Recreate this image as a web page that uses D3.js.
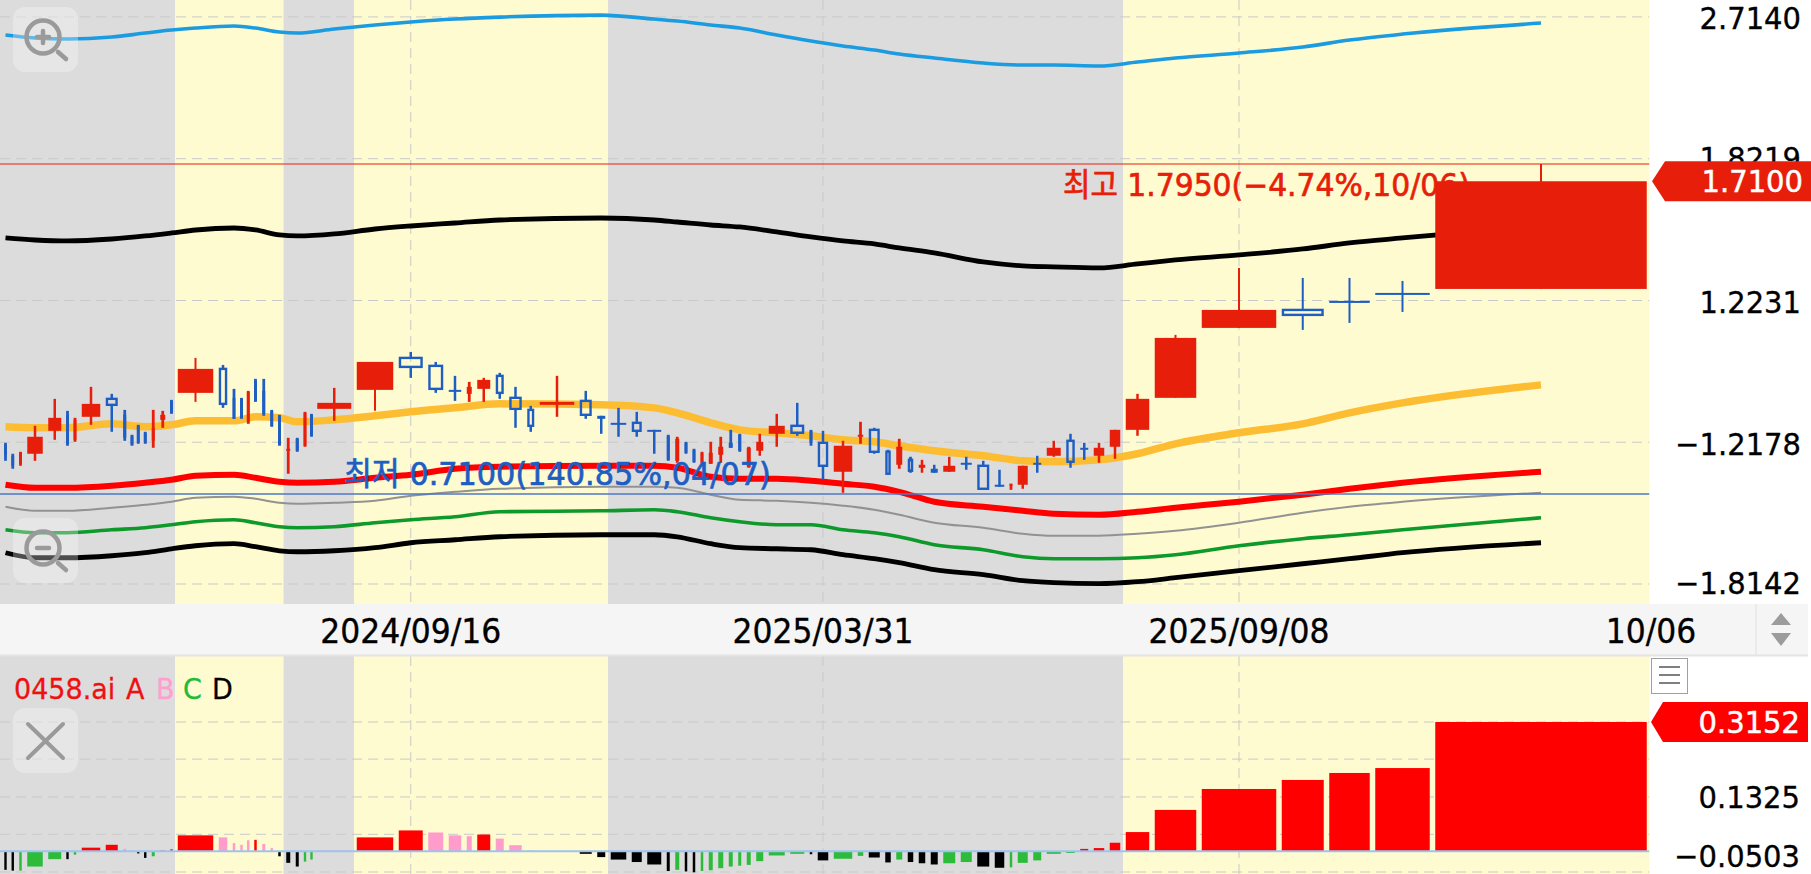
<!DOCTYPE html>
<html><head><meta charset="utf-8">
<style>html,body{margin:0;padding:0;background:#fff;overflow:hidden}svg{display:block}text{font-family:"DejaVu Sans","Noto Sans CJK KR",sans-serif}</style>
<script src="https://cdnjs.cloudflare.com/ajax/libs/d3/7.8.5/d3.min.js"></script>
</head><body><svg id="c" width="1811" height="874"></svg>
<script>
const volumes=[7,7.5,8,21,18.5,7,8,24,17.5,8.5,6,6.5,7.5,8.5,10.5,7,41,14,8,7,6.5,8,8.5,7.5,8,9.5,8.5,7,6,39.5,42,29.5,20.5,18,10.5,18.5,13.5,18,12.5,40,17.5,13.5,21,15.5,19.5,8.5,9.5,8,8,8,9.5,10.5,9.5,8.5,9.5,12.5,21.5,19.5,8,16,24,11,16.5,11,11.5,11,12,12.5,17.5,16.5,17.5,15,8,15.5,13.5,19.5,14,13.5,16,16,29,47,80,47.5,46,60,217];
const opens=[.8154,.7905,.7730,.7950,.8480,.8870,.8268,.8820,.9277,.8870,.8362,.8600,.8433,.8245,.8745,.9224,.9434,1.0092,.9303,.9277,.8672,.9758,.9487,.8969,.8845,.8039,.8292,.8131,.8870,.9020,.9514,1.0408,1.0178,.9514,.9408,.9541,.9896,.9303,.8994,.9122,.9224,.8845,.8672,.8672,.8503,.8362,.7794,.8199,.8039,.7751,.7730,.7928,.8199,.8386,.7665,.8017,.8409,.8600,.8480,.8199,.7558,.8362,.8503,.7994,.7708,.7816,.7643,.7622,.7558,.7751,.7686,.7287,.7266,.7287,.7751,.7905,.8245,.8085,.7905,.8108,.8503,.9303,1.1324,1.1911,1.2216,1.2494,1.2635];
const highs=[.8199,.7950,.7994,.8600,.9277,.8969,.8795,.9595,.9408,.8994,.8386,.8624,.8456,.8994,.8969,.9250,1.0408,1.0205,.9541,.9303,.9487,.9813,.9813,.8994,.8870,.8315,.8315,.8944,.8894,.9568,1.0292,1.0585,1.0292,.9896,.9730,.9841,.9980,.9595,.9096,.9896,.9487,.8845,.9045,.8944,.8503,.8386,.8339,.8222,.8062,.7994,.8222,.8339,.8503,.8409,.8108,.8409,.8894,.9173,.8503,.8480,.8245,.8697,.8552,.8039,.8292,.7883,.7816,.7708,.7883,.7883,.7794,.7600,.7307,.7686,.7905,.8245,.8409,.8199,.8199,.8503,.9408,1.1104,1.3403,1.3032,1.3032,1.2922,1.7950];
const lows=[.7794,.7622,.7686,.7794,.8268,.8131,.8222,.8624,.8456,.8245,.8131,.8176,.8176,.8085,.8552,.8894,.9198,.9045,.8770,.8770,.8648,.9198,.8845,.8576,.8131,.7516,.7994,.8108,.8339,.8721,.8969,.9841,.9434,.9224,.9198,.9198,.9277,.8552,.8456,.8820,.8770,.8409,.8339,.8339,.7950,.7794,.7751,.7950,.7751,.7730,.7730,.7751,.8085,.7994,.7643,.7905,.8108,.8362,.8131,.7389,.7124,.8176,.7950,.7516,.7622,.7537,.7537,.7537,.7558,.7600,.7205,.7246,.7184,.7205,.7537,.7883,.7643,.7816,.7751,.7838,.8362,.9303,1.1324,1.1260,1.1484,1.1844,1.2635];
const closes=[.7928,.7686,.7972,.8339,.8795,.8176,.8745,.9147,.9122,.8315,.8154,.8199,.8199,.8552,.8870,.8919,1.0092,.9147,.8770,.8795,.9461,.9224,.8894,.8600,.8154,.8062,.8017,.8919,.8362,.9173,1.0292,1.0148,.9541,.9461,.9595,.9785,.9434,.9020,.8600,.9198,.8870,.8770,.8624,.8480,.8456,.7816,.8292,.7972,.7773,.7972,.7972,.8108,.8085,.8017,.8085,.8222,.8600,.8433,.8199,.7686,.8131,.8386,.7994,.7516,.8108,.7579,.7708,.7537,.7686,.7708,.7205,.7246,.7307,.7686,.7708,.8085,.7773,.8039,.8085,.8503,.9277,1.1010,1.1911,1.1746,1.2148,1.2424,1.7100];

const lineKnots=[1,4,6,9,13,16,17,19,22,25,27,30,31,32,34,37,42,45,47,51,54,57,59,61,63,65,68,71,74,76,79,81,82,83,84,85,86,87];
const upperBlue=[2.5789,2.5573,2.5502,2.5645,2.5935,2.6154,2.6303,2.6451,2.6303,2.6008,2.5935,2.6229,2.6525,2.6749,2.6975,2.7126,2.7279,2.6975,2.6824,2.6525,2.6303,2.5789,2.5359,2.5006,2.4726,2.4450,2.4177,2.3839,2.3706,2.3706,2.3640,2.3906,2.4177,2.4519,2.4936,2.5430,2.5862,2.6674];
const upperBlack=[1.4581,1.4498,1.4458,1.4539,1.4663,1.4787,1.4911,1.4996,1.4911,1.4704,1.4663,1.4746,1.4953,1.5080,1.5207,1.5336,1.5423,1.5336,1.5250,1.5122,1.5038,1.4828,1.4622,1.4458,1.4338,1.4177,1.3980,1.3630,1.3479,1.3441,1.3403,1.3554,1.3706,1.3901,1.4137,1.4378,1.4581,1.5080];
const middleOrange=[.8576,.8552,.8552,.8648,.8576,.8624,.8721,.8721,.8820,.8795,.8697,.8745,.8845,.8944,.9045,.9147,.9122,.9045,.8919,.8672,.8503,.8433,.8362,.8268,.8222,.8131,.8017,.7905,.7794,.7773,.7816,.7950,.8176,.8433,.8648,.8919,.9173,.9649];
const lowerRed=[.7287,.7225,.7225,.7266,.7328,.7389,.7474,.7495,.7431,.7348,.7328,.7348,.7431,.7495,.7622,.7665,.7686,.7686,.7643,.7452,.7410,.7410,.7369,.7307,.7246,.7144,.6947,.6851,.6773,.6717,.6698,.6755,.6831,.6947,.7086,.7205,.7328,.7558];
const lowerGrey=[.6851,.6773,.6773,.6831,.6889,.6947,.7025,.7045,.7005,.6928,.6908,.6928,.6966,.7065,.7144,.7205,.7246,.7246,.7225,.7086,.6986,.6966,.6928,.6870,.6792,.6698,.6549,.6457,.6350,.6314,.6314,.6350,.6403,.6549,.6736,.6851,.6947,.7124];
const lowerGreen=[.6421,.6367,.6367,.6421,.6457,.6512,.6567,.6604,.6549,.6476,.6457,.6476,.6549,.6604,.6660,.6755,.6773,.6792,.6755,.6641,.6567,.6512,.6512,.6421,.6367,.6296,.6156,.6070,.5952,.5919,.5919,.5935,.5986,.6139,.6261,.6332,.6421,.6641];
const lowerBlack=[.6020,.5935,.5935,.5969,.6020,.6087,.6139,.6174,.6122,.6053,.6036,.6053,.6105,.6191,.6243,.6296,.6332,.6332,.6296,.6174,.6105,.6087,.6070,.5986,.5919,.5853,.5739,.5659,.5564,.5533,.5518,.5549,.5612,.5723,.5836,.5919,.6020,.6191];

const oscValues=[-.045,-.047,-.047,-.037,-.019,-.019,-.008,.009,.016,.006,.002,-.005,-.016,-.012,.002,.005,.039,.034,.020,.016,.027,.028,.018,.008,-.012,-.028,-.037,-.025,-.020,.002,.034,.051,.046,.039,.037,.041,.031,.015,.002,.001,-.006,-.014,-.020,-.026,-.032,-.048,-.045,-.049,-.051,-.048,-.046,-.041,-.037,-.035,-.033,-.024,-.010,-.006,-.007,-.022,-.018,-.011,-.015,-.027,-.020,-.026,-.029,-.032,-.029,-.026,-.037,-.040,-.039,-.028,-.022,-.006,-.004,.006,.008,.021,.047,.101,.152,.174,.191,.203,.3152];
const oscSeries="DDCCCDCAABBDDCAAABBBBABBDDDCCBAABBBABBBBDDDDDDCDDCCCCCCCCCDDCCDDCDDDCCDDCCCCCAAAAAAAAAA".split("");

const shadeSpans=[[0,16,"#dcdcdc"],[16,25,"#fffbd0"],[25,30,"#dcdcdc"],[30,42,"#fffbd0"],[42,80,"#dcdcdc"],[80,87,"#fffbd0"]];
const priceGrid=[2.7140,1.8219,1.2231,.8212,.5513];
const priceTickLabels=["2.7140","1.8219","1.2231","\u22121.2178","\u22121.8142"];
const oscGrid=[.3152,.2248,.1325,.0415,-.0503];
const oscTickValues=[.1325,-.0503];
const oscTickLabels=["0.1325","\u22120.0503"];
const dateCandles=[31,59,82];
const dateLabels=["2024/09/16","2025/03/31","2025/09/08"];
const lastDateLabel="10/06";
const lastClose=1.71, hiPrice=1.795, loPrice=.71;
const hiText="\ucd5c\uace0 1.7950(\u22124.74%,10/06)", loText="\ucd5c\uc800 0.7100(140.85%,04/07)";
const lastOsc=.3152;
const legendItems=[["0458.ai",14,"#ee1111"],["A",126,"#ee1111"],["B",156,"#ff9fcf"],["C",183,"#22bb33"],["D",212,"#000"]];

const RED="#e71f0a",BLUE="#1e5ec2",GRID="#c9c9c9";
const svg=d3.select("#c");
const total=d3.sum(volumes);
const cum=[0];volumes.forEach(v=>cum.push(cum[cum.length-1]+v));
const centers=volumes.map((v,i)=>cum[i]+v/2);
const PANE_R=2+total;
const x=d3.scaleLinear().domain([-2,total]).range([0,PANE_R]);
const y=d3.scaleLog().domain([1.795,.71]).range([164,494]);
const yo=d3.scaleLinear().domain([.3152,-.0503]).range([722,872]);

const defs=svg.append("defs");
defs.append("clipPath").attr("id","topclip").append("rect").attr("x",0).attr("y",0).attr("width",PANE_R).attr("height",604);
defs.append("clipPath").attr("id","botclip").append("rect").attr("x",0).attr("y",656).attr("width",PANE_R).attr("height",218);

// backgrounds
[[0,604],[656,874]].forEach(([a,b])=>{
  svg.append("g").selectAll("rect").data(shadeSpans).join("rect")
    .attr("x",d=>d[0]===0?0:x(cum[d[0]])).attr("width",d=>x(cum[d[1]])-(d[0]===0?0:x(cum[d[0]])))
    .attr("y",a).attr("height",b-a).attr("fill",d=>d[2]);
});
// grid
const topG=svg.append("g").attr("clip-path","url(#topclip)");
const botG=svg.append("g").attr("clip-path","url(#botclip)");
const dash="10 6";
topG.append("g").selectAll("line").data(priceGrid).join("line").attr("x1",0).attr("x2",PANE_R)
  .attr("y1",d=>y(d)).attr("y2",d=>y(d)).attr("stroke",GRID).attr("stroke-dasharray",dash);
botG.append("g").selectAll("line").data(oscGrid).join("line").attr("x1",0).attr("x2",PANE_R)
  .attr("y1",d=>yo(d)).attr("y2",d=>yo(d)).attr("stroke",GRID).attr("stroke-dasharray",dash);
[[topG,0,604],[botG,656,874]].forEach(([g,a,b])=>{
  g.append("g").selectAll("line").data(dateCandles).join("line")
   .attr("x1",d=>x(centers[d])).attr("x2",d=>x(centers[d])).attr("y1",a).attr("y2",b)
   .attr("stroke",GRID).attr("stroke-dasharray",dash);
});
// hi text below candles
topG.append("text").attr("x",1063).attr("y",185).attr("dominant-baseline","central").attr("font-size",29.8).attr("fill",RED).attr("stroke",RED).attr("stroke-width",.7).text(hiText);
// lines
const line=d3.line().x(d=>x(centers[d[0]-1])).y(d=>y(d[1])).curve(d3.curveMonotoneX);
[[upperBlue,"#1b9be0",3.6],[upperBlack,"#000",4.8],[middleOrange,"#fdbd33",7.5],[lowerRed,"#ff0000",6],[lowerGrey,"#929292",2],[lowerGreen,"#0e992b",3.6],[lowerBlack,"#000",4.8]]
 .forEach(([s,c,w])=>topG.append("path").attr("d",line(lineKnots.map((k,i)=>[k,s[i]]))).attr("fill","none").attr("stroke",c).attr("stroke-width",w));
// hi / lo lines
topG.append("line").attr("x1",0).attr("x2",PANE_R).attr("y1",y(hiPrice)).attr("y2",y(hiPrice)).attr("stroke",RED).attr("stroke-width",1.2);
topG.append("line").attr("x1",0).attr("x2",PANE_R).attr("y1",y(loPrice)).attr("y2",y(loPrice)).attr("stroke","#4f78c4").attr("stroke-width",1.4);
// candles
const cg=topG.append("g");
volumes.forEach((v,i)=>{
  const up=closes[i]>=opens[i],col=up?RED:BLUE,cx=x(centers[i]);
  const bw=Math.max(v-5.5,2.8),t=y(Math.max(opens[i],closes[i])),b=y(Math.min(opens[i],closes[i]));
  const ww=v>40?2:(v<12?2.8:2.5);
  const hollow=!up&&bw>=5&&b-t>=4;
  if(hollow){
    cg.append("line").attr("x1",cx).attr("x2",cx).attr("y1",y(highs[i])).attr("y2",t).attr("stroke",col).attr("stroke-width",ww);
    cg.append("line").attr("x1",cx).attr("x2",cx).attr("y1",b).attr("y2",y(lows[i])).attr("stroke",col).attr("stroke-width",ww);
    cg.append("rect").attr("x",cx-bw/2+1.2).attr("y",t).attr("width",bw-2.4).attr("height",b-t).attr("fill","none").attr("stroke",col).attr("stroke-width",2.4);
  }else{
    cg.append("line").attr("x1",cx).attr("x2",cx).attr("y1",y(highs[i])).attr("y2",y(lows[i])).attr("stroke",col).attr("stroke-width",ww);
    cg.append("rect").attr("x",cx-bw/2).attr("y",t).attr("width",bw).attr("height",Math.max(b-t,2)).attr("fill",col);
  }
});
topG.append("text").attr("x",344).attr("y",474).attr("dominant-baseline","central").attr("font-size",30.3).attr("fill",BLUE).attr("stroke",BLUE).attr("stroke-width",.7).text(loText);

// oscillator
const oscCol={A:"#ff0000",B:"#ff9ccb",C:"#2dbb3a",D:"#000"};
botG.append("g").selectAll("rect").data(oscValues).join("rect")
  .attr("x",(d,i)=>x(centers[i])-Math.max(volumes[i]-5.5,2.4)/2)
  .attr("width",(d,i)=>Math.max(volumes[i]-5.5,2.4))
  .attr("y",d=>Math.min(yo(d),yo(0))).attr("height",d=>Math.abs(yo(d)-yo(0)))
  .attr("fill",(d,i)=>oscCol[oscSeries[i]]);
botG.append("line").attr("x1",0).attr("x2",PANE_R).attr("y1",yo(0)).attr("y2",yo(0)).attr("stroke","#9cc4ee").attr("stroke-width",2);

// strip
svg.append("rect").attr("x",0).attr("y",604).attr("width",1808).attr("height",51).attr("fill","#f5f5f5");
svg.append("line").attr("x1",0).attr("x2",1808).attr("y1",655.5).attr("y2",655.5).attr("stroke","#e4e4e4").attr("stroke-width",2);
svg.append("line").attr("x1",1756).attr("x2",1756).attr("y1",604).attr("y2",655).attr("stroke","#e0e0e0");
svg.append("path").attr("d","M1781 613L1791 625L1771 625Z").attr("fill","#9c9c9c");
svg.append("path").attr("d","M1771 633L1791 633L1781 646Z").attr("fill","#9c9c9c");
const AXF=29,DTF=31.4;
svg.append("g").selectAll("text").data(dateCandles).join("text").attr("x",d=>x(centers[d])).attr("y",631)
 .attr("text-anchor","middle").attr("dominant-baseline","central").attr("font-size",DTF).attr("stroke","#000").attr("stroke-width",.35).text((d,i)=>dateLabels[i]);
svg.append("text").attr("x",1651).attr("y",631).attr("text-anchor","middle").attr("dominant-baseline","central").attr("font-size",DTF).attr("stroke","#000").attr("stroke-width",.35).text(lastDateLabel);

// right axis
const tickPx=[18,158,302,444,583];
svg.append("g").selectAll("text").data(priceGrid).join("text").attr("x",1801).attr("y",(d,i)=>tickPx[i])
 .attr("text-anchor","end").attr("dominant-baseline","central").attr("font-size",AXF).attr("stroke","#000").attr("stroke-width",.35).text((d,i)=>priceTickLabels[i]);
svg.append("path").attr("d",`M1652 ${y(lastClose)}L1665 ${y(lastClose)-20}L1811 ${y(lastClose)-20}L1811 ${y(lastClose)+20}L1665 ${y(lastClose)+20}Z`).attr("fill",RED);
svg.append("text").attr("x",1803).attr("y",y(lastClose)).attr("text-anchor","end").attr("dominant-baseline","central").attr("font-size",AXF).attr("fill","#fff").attr("stroke","#fff").attr("stroke-width",.5).text(lastClose.toFixed(4));
svg.append("path").attr("d",`M1651 ${yo(lastOsc)}L1663 ${yo(lastOsc)-20}L1808 ${yo(lastOsc)-20}L1808 ${yo(lastOsc)+20}L1663 ${yo(lastOsc)+20}Z`).attr("fill","#ff0000");
svg.append("text").attr("x",1800).attr("y",yo(lastOsc)).attr("text-anchor","end").attr("dominant-baseline","central").attr("font-size",AXF).attr("fill","#fff").attr("stroke","#fff").attr("stroke-width",.5).text(lastOsc.toFixed(4));
const oscPx=[797,856];
svg.append("g").selectAll("text").data(oscTickValues).join("text").attr("x",1800).attr("y",(d,i)=>oscPx[i])
 .attr("text-anchor","end").attr("dominant-baseline","central").attr("font-size",AXF).attr("stroke","#000").attr("stroke-width",.35).text((d,i)=>oscTickLabels[i]);

// legend
svg.append("g").selectAll("text").data(legendItems).join("text").attr("x",d=>d[1]).attr("y",689)
 .attr("dominant-baseline","central").attr("font-size",27).attr("fill",d=>d[2]).attr("stroke",d=>d[2]).attr("stroke-width",.3).text(d=>d[0]);

// taller, slightly condensed glyphs at the same text width
svg.selectAll("text").each(function(){
  const t=d3.select(this),w=this.getComputedTextLength(),fs=+t.attr("font-size");
  t.attr("font-size",fs*1.06).attr("textLength",w).attr("lengthAdjust","spacingAndGlyphs");
});

// buttons
function btn(yTop){svg.append("rect").attr("x",13).attr("y",yTop).attr("width",65).attr("height",65).attr("rx",12).attr("fill","#fff").attr("fill-opacity",.3);}
function mag(cy,plus){
  const g=svg.append("g").attr("fill","none").attr("stroke","#9a9a9a").attr("stroke-linecap","round");
  g.append("circle").attr("cx",43).attr("cy",cy).attr("r",16.5).attr("stroke-width",4.5);
  g.append("line").attr("x1",58).attr("y1",cy+15).attr("x2",66).attr("y2",cy+22).attr("stroke-width",4.5);
  g.append("line").attr("x1",37).attr("x2",49).attr("y1",cy).attr("y2",cy).attr("stroke-width",4.5);
  if(plus)g.append("line").attr("x1",43).attr("x2",43).attr("y1",cy-6).attr("y2",cy+6).attr("stroke-width",4.5);
}
btn(7);mag(37,true);btn(518);mag(548,false);btn(708);
svg.append("path").attr("d","M28 724L63 758M63 724L28 758").attr("stroke","#9a9a9a").attr("stroke-width",4).attr("stroke-linecap","round").attr("fill","none");
// menu
svg.append("rect").attr("x",1651.5).attr("y",658.5).attr("width",36).attr("height",35).attr("fill","#fff").attr("stroke","#a0a0a0");
[667,675,683].forEach(v=>svg.append("line").attr("x1",1659).attr("x2",1680).attr("y1",v).attr("y2",v).attr("stroke","#808080").attr("stroke-width",2));
</script></body></html>
